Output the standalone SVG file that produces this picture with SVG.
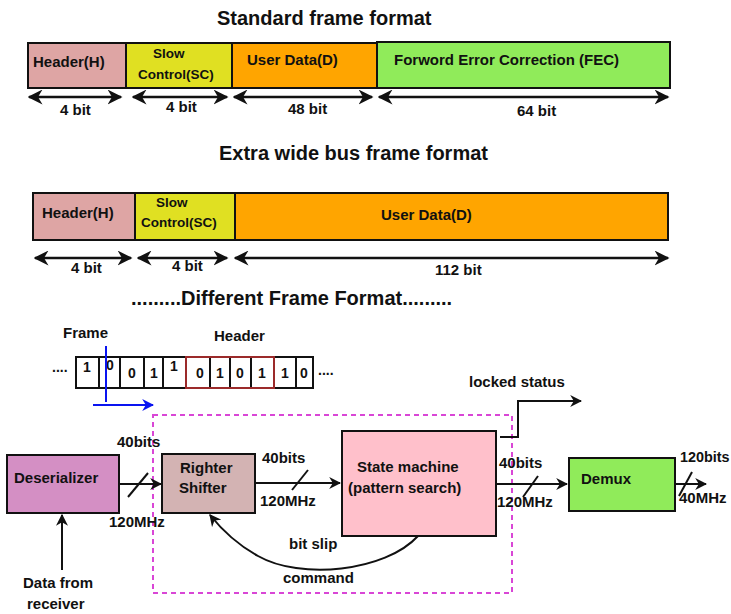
<svg xmlns="http://www.w3.org/2000/svg" width="731" height="614" viewBox="0 0 731 614">
<style>
text{font-family:"Liberation Sans",Arial,sans-serif;font-weight:bold;fill:#111}
.t{font-size:20px}
.b{font-size:15px}
.c{font-size:13.5px}
.m{font-size:15px}
.d{font-size:14px}
.box{stroke:#111;stroke-width:2}
.ln{stroke:#111;stroke-width:2;fill:none}
.dbl{stroke:#111;stroke-width:2.5;fill:none;marker-start:url(#ah);marker-end:url(#ah)}
.arr{stroke:#111;stroke-width:2;fill:none;marker-end:url(#ah)}
.cell{fill:#fff;stroke:#111;stroke-width:2}
</style>
<defs>
<marker id="ah" viewBox="0 0 10 10" refX="9" refY="5" markerWidth="6" markerHeight="6" orient="auto-start-reverse" markerUnits="strokeWidth">
<path d="M0,0 L10,5 L0,10 L3,5 z" fill="#111"/>
</marker>
<marker id="ahb" viewBox="0 0 10 10" refX="9" refY="5" markerWidth="6" markerHeight="6" orient="auto" markerUnits="strokeWidth">
<path d="M0,0 L10,5 L0,10 L3,5 z" fill="#0a14f0"/>
</marker>
</defs>

<!-- Standard frame format -->
<g id="title1"><text class="t" x="217" y="25">Standard frame format</text></g>
<g id="std-header"><rect class="box" x="28" y="43" width="98" height="45" fill="#dea5a4"/><text class="b" x="33" y="67">Header(H)</text></g>
<g id="std-slow"><rect class="box" x="126" y="43" width="106" height="45" fill="#e0e022"/><text class="c" x="153" y="58">Slow</text><text class="c" x="138" y="79">Control(SC)</text></g>
<g id="std-user"><rect class="box" x="232" y="43" width="145" height="45" fill="#ffa500"/><text class="b" x="247" y="65">User Data(D)</text></g>
<g id="std-fec"><rect class="box" x="377" y="42" width="293" height="46" fill="#90eb5a"/><text class="b" x="394" y="65">Forword Error Correction (FEC)</text></g>
<g id="std-dims">
<path class="dbl" d="M29,97 H121"/><path class="dbl" d="M133,97 H227"/><path class="dbl" d="M234,97 H372"/><path class="dbl" d="M379,97 H668"/>
<text class="b" x="60" y="115">4 bit</text>
<text class="b" x="166" y="112">4 bit</text>
<text class="b" x="288" y="114">48 bit</text>
<text class="b" x="517" y="116">64 bit</text>
</g>

<!-- Extra wide bus frame format -->
<g id="title2"><text class="t" x="219" y="160">Extra wide bus frame format</text></g>
<g id="ewb-header"><rect class="box" x="33" y="193" width="102" height="47" fill="#dea5a4"/><text class="b" x="42" y="218">Header(H)</text></g>
<g id="ewb-slow"><rect class="box" x="135" y="193" width="100" height="47" fill="#e0e022"/><text class="c" x="156" y="207">Slow</text><text class="c" x="141" y="227">Control(SC)</text></g>
<g id="ewb-user"><rect class="box" x="235" y="193" width="433" height="47" fill="#ffa500"/><text class="b" x="381" y="220">User Data(D)</text></g>
<g id="ewb-dims">
<path class="dbl" d="M35,258 H131"/><path class="dbl" d="M138,258 H227"/><path class="dbl" d="M235,258 H668"/>
<text class="b" x="71" y="273">4 bit</text>
<text class="b" x="172" y="271">4 bit</text>
<text class="b" x="435" y="275">112 bit</text>
</g>
<g id="title3"><text class="t" x="131" y="305">.........Different Frame Format.........</text></g>

<!-- Bit stream -->
<g id="bitstream">
<text class="m" x="63" y="338">Frame</text>
<text class="m" x="214" y="341">Header</text>
<text class="d" x="52" y="372">....</text>
<text class="d" x="318" y="375">....</text>
<rect class="cell" x="76" y="357" width="237" height="31"/>
<path class="ln" d="M99,357 V388 M120,357 V388 M144,357 V388 M163,357 V388 M186,357 V388 M210,357 V388 M230,357 V388 M251,357 V388 M274,357 V388 M296,357 V388"/>
<rect x="186" y="357" width="88" height="31" fill="none" stroke="#9b2a2a" stroke-width="2"/>
<text class="d" x="83" y="372">1</text>
<text class="d" x="106" y="370">0</text>
<text class="d" x="128" y="378">0</text>
<text class="d" x="150" y="378">1</text>
<text class="d" x="170" y="371">1</text>
<text class="d" x="196" y="378">0</text>
<text class="d" x="216" y="378">1</text>
<text class="d" x="236" y="378">0</text>
<text class="d" x="258" y="378">1</text>
<text class="d" x="281" y="378">1</text>
<text class="d" x="300" y="378">0</text>
<path d="M106,346 V402" stroke="#0a14f0" stroke-width="2" fill="none"/>
<path d="M93,405 H153" stroke="#0a14f0" stroke-width="2" fill="none" marker-end="url(#ahb)"/>
</g>

<!-- dashed boundary -->
<g id="boundary"><rect x="153" y="415" width="359" height="178" fill="none" stroke="#d946d6" stroke-width="2" stroke-dasharray="5,4"/></g>

<!-- Nodes -->
<g id="deserializer"><rect class="box" x="7" y="455" width="112" height="58" fill="#d48fc4"/><text class="m" x="14" y="483">Deserializer</text></g>
<g id="righter-shifter"><rect class="box" x="162" y="454" width="93" height="59" fill="#d3b3b3"/><text class="m" x="180" y="473">Righter</text><text class="m" x="179" y="493">Shifter</text></g>
<g id="state-machine"><rect class="box" x="342" y="431" width="154" height="105" fill="#ffc0cb"/><text class="m" x="357" y="472">State machine</text><text class="m" x="348" y="493">(pattern search)</text></g>
<g id="demux"><rect class="box" x="569" y="458" width="106" height="53" fill="#90eb5a"/><text class="m" x="581" y="484">Demux</text></g>
<g id="data-from-receiver"><text class="m" x="23" y="588">Data from</text><text class="m" x="27" y="609">receiver</text></g>
<g id="locked-status"><text class="m" x="469" y="387">locked status</text></g>

<!-- Connectors -->
<g id="connectors">
<path class="arr" d="M62,570 V515"/>
<path class="arr" d="M119,484 H161"/>
<path class="ln" d="M128,497 L148,473"/>
<text class="m" x="117" y="447">40bits</text>
<text class="m" x="109" y="527">120MHz</text>
<path class="arr" d="M255,483 H340"/>
<path class="ln" d="M292,490 L308,470"/>
<text class="m" x="262" y="463">40bits</text>
<text class="m" x="260" y="506">120MHz</text>
<path class="arr" d="M496,484 H567"/>
<path class="ln" d="M523,497 L538,476"/>
<text class="m" x="499" y="468">40bits</text>
<text class="m" x="497" y="507">120MHz</text>
<path class="arr" d="M675,484 H706"/>
<path class="ln" d="M679,496 L692,472"/>
<text class="m" transform="translate(680,462) scale(0.96,1)">120bits</text>
<text class="m" x="679" y="503">40MHz</text>
<path class="arr" d="M500,437 H518 V401 H581"/>
<path class="arr" d="M418,536 C385,572 300,580 258,556 C238,545 222,530 210,515"/>
<text class="m" x="289" y="549">bit slip</text>
<text class="m" x="283" y="583">command</text>
</g>
</svg>
